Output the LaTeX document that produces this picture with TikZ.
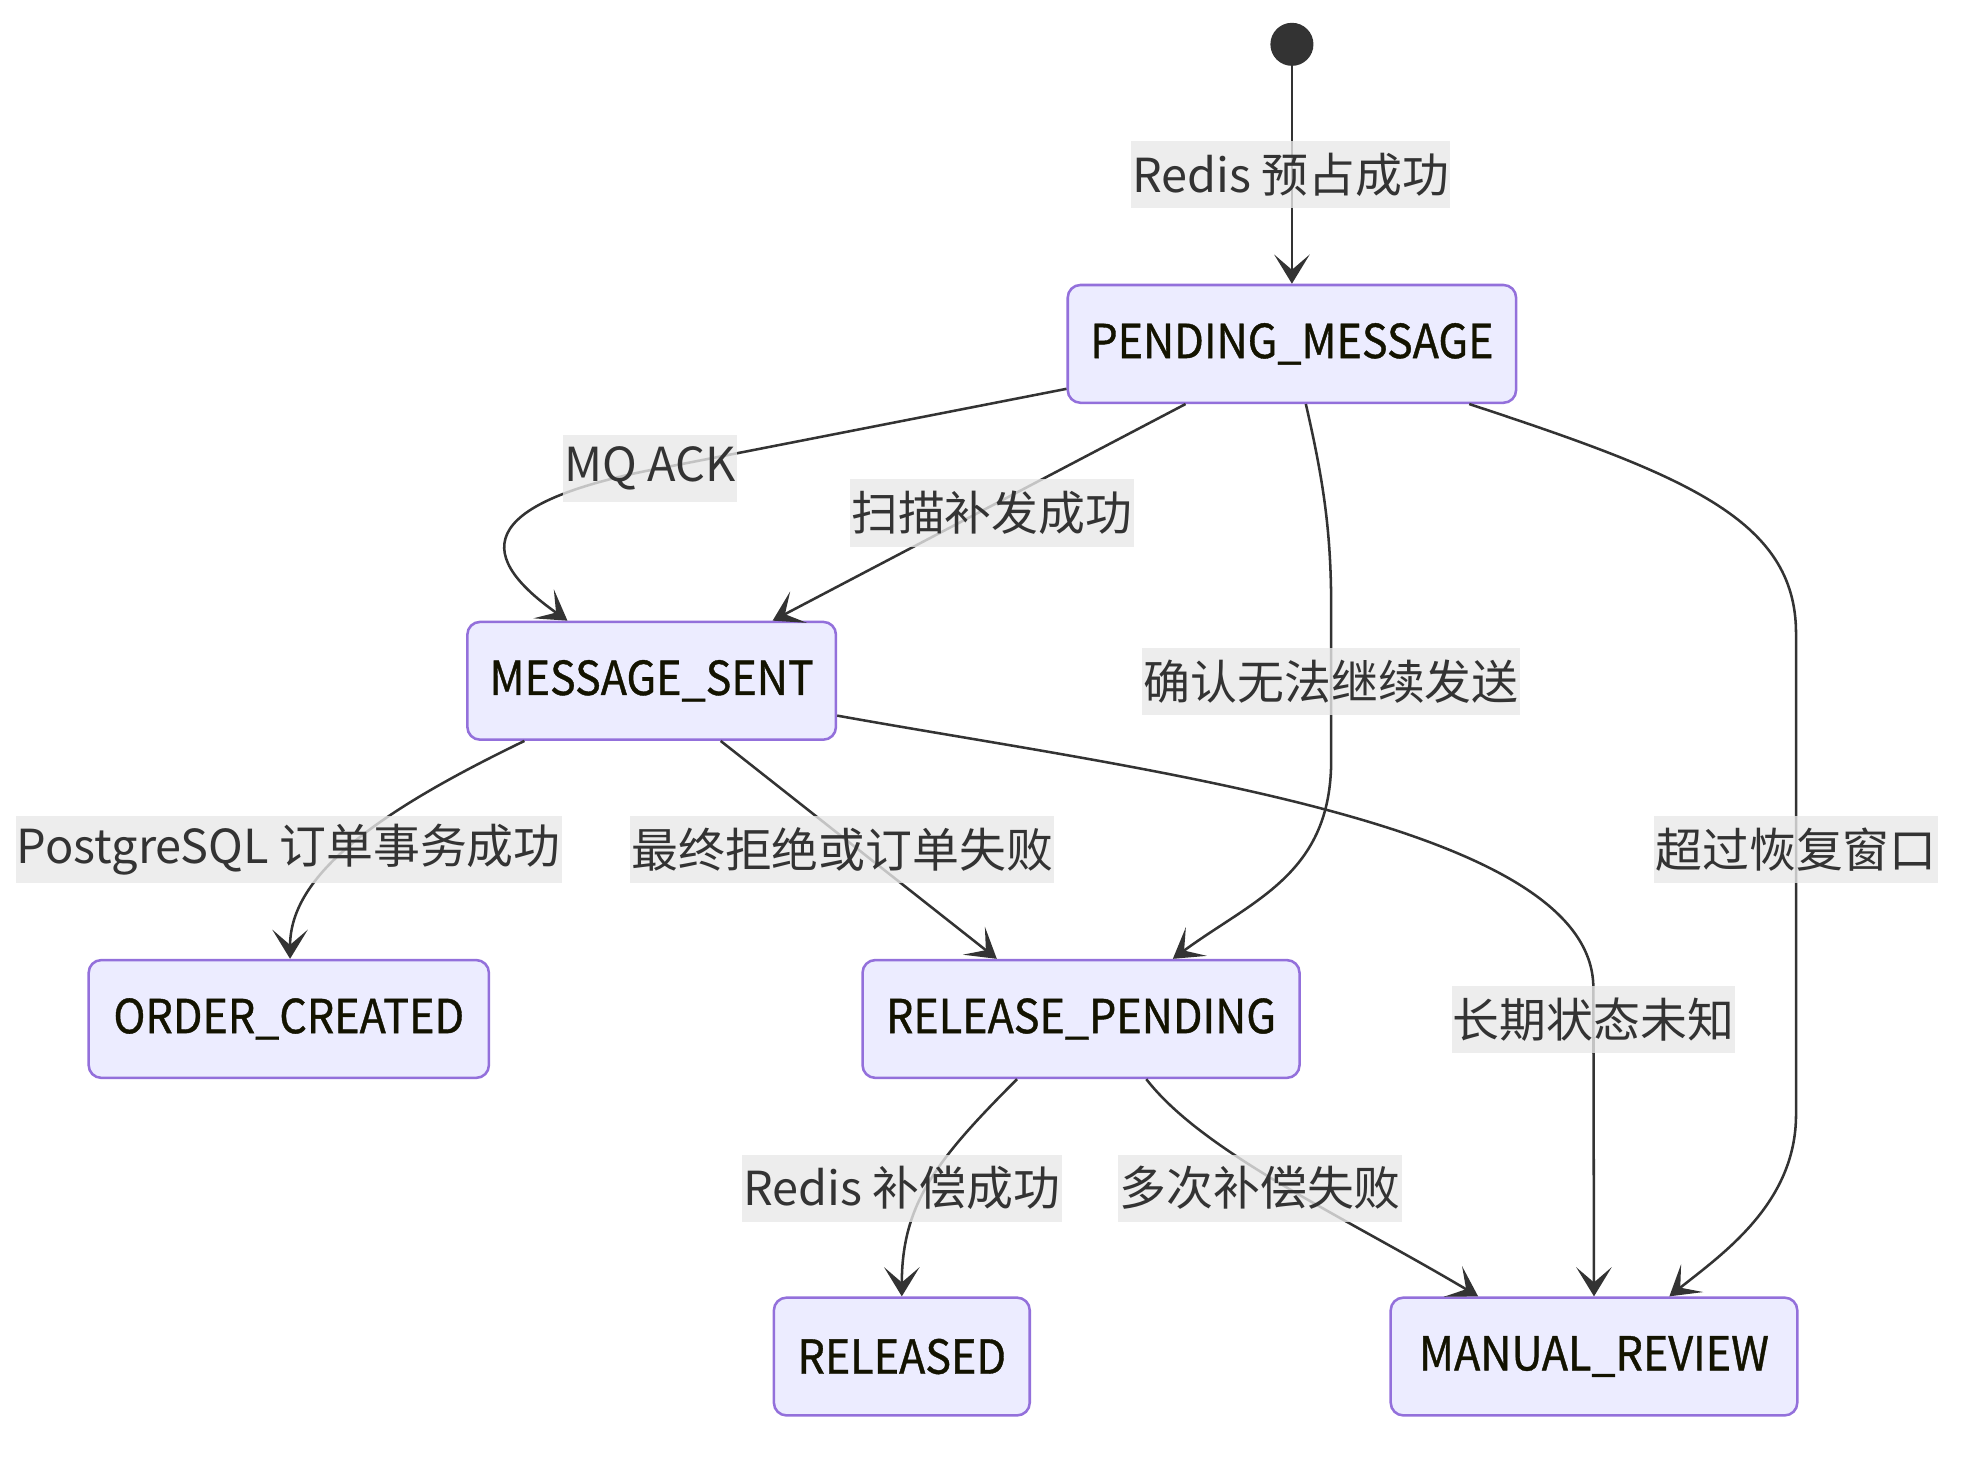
\documentclass[tikz,border=0pt]{standalone}
\usepackage{fontspec}
\setmainfont{Noto Sans CJK SC}
\newfontfamily\statefont{Noto Sans CJK SC}[FakeStretch=0.92,FakeBold=0.8]
\usetikzlibrary{arrows.meta}
\definecolor{statefill}{HTML}{ECECFF}
\definecolor{stateline}{HTML}{9370DB}
\definecolor{edgeline}{HTML}{333333}
\definecolor{lblfill}{HTML}{E8E8E8}
\definecolor{statetext}{HTML}{131300}

\begin{document}
\begin{tikzpicture}[x=1pt,y=-1pt,
  font=\fontsize{37}{44}\selectfont,
  state/.style={draw=stateline,fill=statefill,line width=2pt,rounded corners=10pt,minimum height=93pt,text=statetext,font=\fontsize{37}{44}\statefont},
  lbl/.style={fill=lblfill,fill opacity=0.8,text opacity=1,text=edgeline,inner xsep=1pt,inner ysep=0pt,minimum height=53pt},
  trans/.style={draw=edgeline,line width=2pt,-{Stealth[length=23pt,width=28pt,inset=12pt]}}]
\useasboundingbox (0,0) rectangle (1568,1151);
\node[circle,fill=edgeline,minimum size=34pt,inner sep=0pt] (init) at (1020,35) {};
\node[state,minimum width=354pt] (pm) at (1020,271.5) {PENDING\_MESSAGE};
\node[state,minimum width=291pt] (ms) at (514.5,537.5) {MESSAGE\_SENT};
\node[state,minimum width=316pt] (oc) at (228,804.5) {ORDER\_CREATED};
\node[state,minimum width=345pt] (rp) at (853.5,804.5) {RELEASE\_PENDING};
\node[state,minimum width=202pt] (rd) at (712,1071) {RELEASED};
\node[state,minimum width=321pt] (mr) at (1258.5,1071) {MANUAL\_REVIEW};

\draw[trans] (init) -- (pm);
\draw[trans] ([yshift=-35.5pt]pm.west) -- (530,368) .. controls (380,395) and (370,435) .. ([xshift=-66.5pt]ms.north);
\draw[trans] ([xshift=-84pt]pm.south) -- ([xshift=95.5pt]ms.north);
\draw[trans] ([xshift=11pt]pm.south) .. controls (1045,380) and (1051,420) .. (1051,480) -- (1051,600) .. controls (1051,690) and (990,710) .. ([xshift=72.5pt]rp.north);
\draw[trans] ([xshift=140pt]pm.south) .. controls (1330,375) and (1418,410) .. (1418,500) -- (1418,880) .. controls (1418,950) and (1360,990) .. ([xshift=59.5pt]mr.north);
\draw[trans] ([xshift=-100.5pt]ms.south) .. controls (300,640) and (229,690) .. ([xshift=1pt]oc.north);
\draw[trans] ([xshift=54.5pt]ms.south) -- ([xshift=-66.5pt]rp.north);
\draw[trans] ([yshift=-27.5pt]ms.east) .. controls (900,608) and (1258,650) .. (1258,780) -- (mr.north);
\draw[trans] ([xshift=-50.5pt]rp.south) .. controls (740,915) and (712,950) .. (rd.north);
\draw[trans] ([xshift=51.5pt]rp.south) .. controls (950,910) and (1060,960) .. ([xshift=-91.5pt]mr.north);

\node[lbl] (l1) at (1019,138) {Redis 预占成功};
\node[lbl] (l2) at (513,370) {MQ ACK};
\node[lbl] (l3) at (783,405) {扫描补发成功};
\node[lbl] (l4) at (1051,538) {确认无法继续发送};
\node[lbl] (l5) at (1418,671) {超过恢复窗口};
\node[lbl] (l6) at (228,671) {PostgreSQL 订单事务成功};
\node[lbl] (l7) at (665,671) {最终拒绝或订单失败};
\node[lbl] (l8) at (1258,805) {长期状态未知};
\node[lbl] (l9) at (712,938) {Redis 补偿成功};
\node[lbl] (l10) at (995,938) {多次补偿失败};
\end{tikzpicture}
\end{document}
